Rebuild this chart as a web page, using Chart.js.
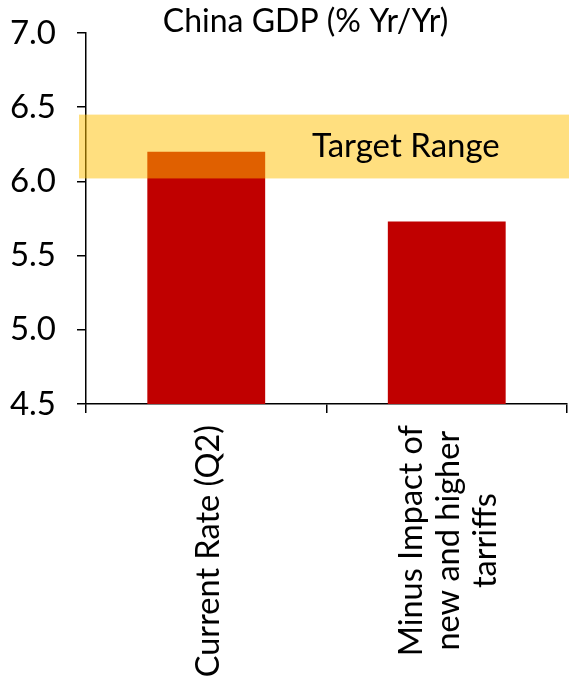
<!DOCTYPE html>
<html>
<head>
<meta charset="utf-8">
<script src="https://cdn.jsdelivr.net/npm/chart.js@4.4.1/dist/chart.umd.min.js"></script>
<style>
  html, body { margin: 0; padding: 0; background: #fff; }
  canvas { display: block; }
</style>
</head>
<body>
<canvas id="gdpChart" width="569" height="681"></canvas>
<script>
// chart data
const categories = [['Current Rate (Q2)'], ['Minus Impact of', 'new and higher', 'tarriffs']];
const gdpValues = [6.2, 5.73];
const targetRange = [6.02, 6.45];
const yMin = 4.5;
const yMax = 7.0;
const yStep = 0.5;
const chartTitle = 'China GDP (% Yr/Yr)';
const bandLabel = 'Target Range';

const FONT = 'Lato';

// yellow target band + its label, drawn over the bars
const targetBand = {
    id: 'targetBand',
    afterDatasetsDraw(chart) {
        const { ctx, chartArea, scales: { y } } = chart;
        const top = y.getPixelForValue(targetRange[1]);
        const bottom = y.getPixelForValue(targetRange[0]);
        ctx.save();
        ctx.fillStyle = 'rgba(255, 192, 0, 0.5)';
        ctx.fillRect(chartArea.left - 7, top, chart.width - chartArea.left + 7, bottom - top);
        ctx.fillStyle = '#000';
        ctx.font = '33px ' + FONT;
        ctx.textAlign = 'center';
        ctx.textBaseline = 'middle';
        ctx.fillText(bandLabel, chartArea.left + (chartArea.right - chartArea.left) * 0.665, (top + bottom) / 2);
        ctx.restore();
    },
    afterDraw(chart) {
        const { ctx, chartArea, scales: { x } } = chart;
        ctx.save();
        ctx.fillStyle = '#000';
        // title
        ctx.font = '32px ' + FONT;
        ctx.textAlign = 'center';
        ctx.textBaseline = 'middle';
        ctx.fillText(chartTitle, (chartArea.left + chartArea.right) / 2 - 21, 22);

        // rotated category labels, block top-aligned, lines centred
        ctx.font = '32.5px ' + FONT;
        const lineH = 37;
        categories.forEach((lines, i) => {
            const px = x.getPixelForValue(i);
            const maxW = Math.max(...lines.map(l => ctx.measureText(l).width));
            ctx.save();
            ctx.translate(px, chartArea.bottom + 21);
            ctx.rotate(-Math.PI / 2);
            lines.forEach((line, j) => {
                ctx.fillText(line, -maxW / 2, (j - (lines.length - 1) / 2) * lineH + 2);
            });
            ctx.restore();
        });
        ctx.restore();
    }
};

const ctx = document.getElementById('gdpChart').getContext('2d');
new Chart(ctx, {
    type: 'bar',
    data: {
        labels: categories.map(c => c.join(' ')),
        datasets: [{
            data: gdpValues,
            backgroundColor: '#C00000',
            barPercentage: 0.49,
            categoryPercentage: 1
        }]
    },
    options: {
        responsive: false,
        animation: false,
        devicePixelRatio: 1,
        layout: { padding: { top: 33, right: 2, left: 0, bottom: 0 } },
        plugins: {
            legend: { display: false },
            tooltip: { enabled: false }
        },
        scales: {
            x: {
                afterFit(scale) { scale.height = 277; },
                grid: { drawOnChartArea: false, tickLength: 9, color: '#000', lineWidth: 1.5 },
                border: { color: '#000', width: 1.5 },
                ticks: { display: false }
            },
            y: {
                min: yMin,
                max: yMax,
                afterFit(scale) { scale.width = 86; scale.paddingTop = 0; },
                grid: { drawOnChartArea: false, tickLength: 9, color: '#000', lineWidth: 1.5 },
                border: { color: '#000', width: 1.5 },
                ticks: {
                    stepSize: yStep,
                    color: '#000',
                    font: { family: FONT, size: 33 },
                    padding: 21,
                    callback: v => v.toFixed(1)
                }
            }
        }
    },
    plugins: [targetBand]
});
</script>
</body>
</html>
